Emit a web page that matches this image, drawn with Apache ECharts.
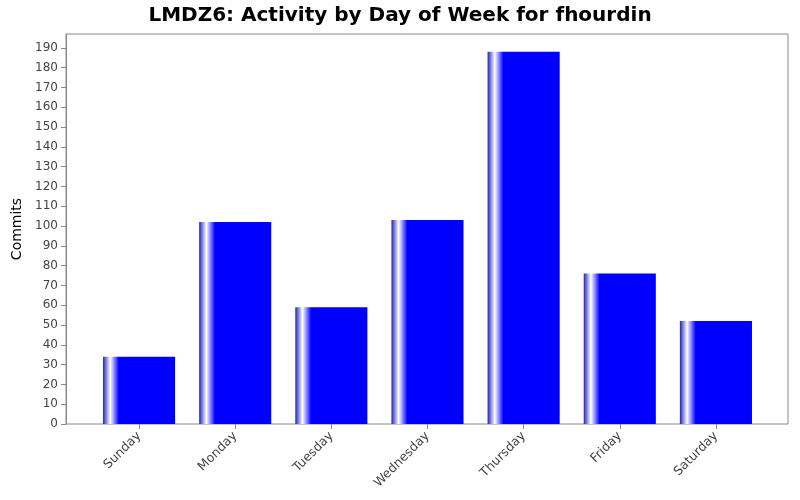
<!DOCTYPE html>
<html><head><meta charset="utf-8">
<script src="https://cdn.jsdelivr.net/npm/echarts@6/dist/echarts.min.js"></script>
<style>html,body{margin:0;padding:0;background:#fff}#c{width:800px;height:500px}</style>
</head><body><div id="c"></div>
<script>
const categories = ["Sunday","Monday","Tuesday","Wednesday","Thursday","Friday","Saturday"];
const commits = [34,102,59,103,188,76,52];
const chart = echarts.init(document.getElementById('c'));
chart.setOption({
  animation:false,
  backgroundColor:'#fff',
  title:{text:'LMDZ6: Activity by Day of Week for fhourdin',left:'center',top:1,
    textStyle:{fontFamily:'DejaVu Sans',fontSize:20,fontWeight:'bold',color:'#000'}},
  graphic:[{type:'rect',shape:{x:66,y:34,width:722,height:390},z:-1,
    style:{fill:'#fff',stroke:'#888',lineWidth:1}}],
  grid:{left:91,right:36,top:34,bottom:76},
  xAxis:{type:'category',data:categories,
    axisLine:{show:false},axisTick:{show:true,alignWithLabel:true,lineStyle:{color:'#888'}},
    axisLabel:{rotate:45,color:'#444',fontFamily:'DejaVu Sans',fontSize:12.5,margin:10}},
  yAxis:{type:'value',min:0,max:197,interval:10,name:'Commits',nameLocation:'middle',nameGap:40,offset:25,
    nameTextStyle:{fontFamily:'DejaVu Sans',fontSize:14,color:'#000'},
    axisLine:{show:true,lineStyle:{color:'#888'}},axisTick:{show:true,lineStyle:{color:'#888'}},
    splitLine:{show:false},
    axisLabel:{color:'#444',fontFamily:'DejaVu Sans',fontSize:12,showMaxLabel:false}},
  series:[{type:'bar',data:commits,barWidth:'75%',
    itemStyle:{color:new echarts.graphic.LinearGradient(0,0,1,0,[
      {offset:0,color:'#2020c0'},{offset:0.1,color:'#ffffff'},{offset:0.22,color:'#0000ff'},{offset:1,color:'#0000ff'}])}}]
});
</script></body></html>
